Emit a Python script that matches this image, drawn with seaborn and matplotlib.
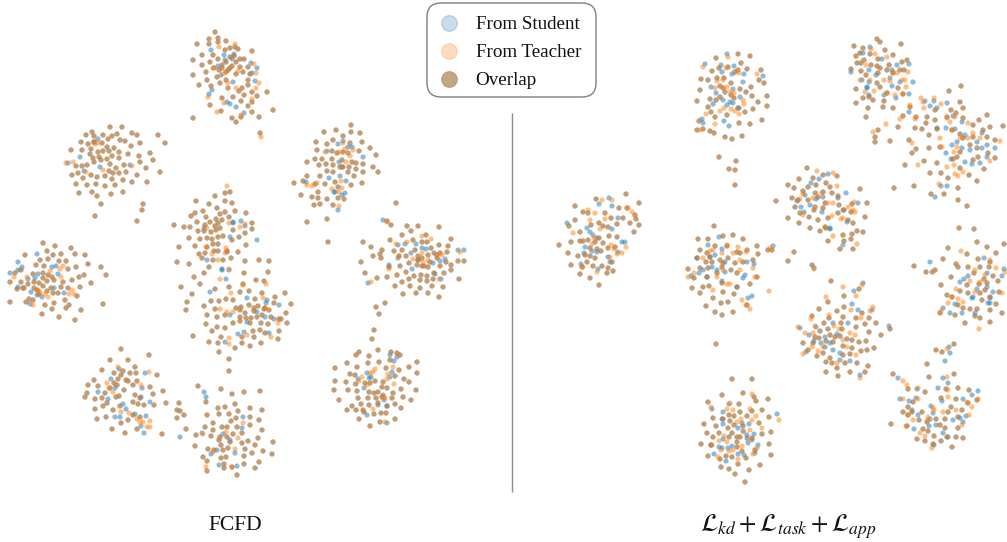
import pandas as pd
import seaborn as sns
import matplotlib.pyplot as plt
from matplotlib.lines import Line2D
from matplotlib.patches import FancyBboxPatch

BLUE = "#1f77b4"
ORANGE = "#ff7f0e"

# points, in image pixels. both = student and teacher coincide
left_both = [
(215,32),(218,38),(209,39),(218,42),(209,44),(226,41),(197,44),(235,47),(230,48),(238,49),(252,51),(225,50),(202,55),(213,55),(193,60),(218,59),(230,57),(240,59),(244,59),(210,62),(202,65),(222,65),(230,68),(240,67),(248,67),(206,72),(193,75),(217,77),(226,72),(236,74),(243,72),(248,80),(207,80),(220,83),(226,80),(199,85),(211,86),(228,88),(242,88),(248,85),(252,92),(239,91),(267,92),(257,96),(222,98),(233,97),(244,95),(252,102),(241,101),(210,105),(248,106),(273,110),(221,111),(252,112),(193,118),(232,118),(259,117),(241,117),(236,122),(260,133),(226,62),(232,66),(222,68),(236,62),(228,70),(219,70),(234,56),(250,74),(214,68),
(110,127),(122,127),(92,132),(132,133),(86,135),(94,136),(103,135),(112,136),(117,134),(137,135),(158,135),(81,142),(88,144),(102,143),(108,139),(120,140),(125,141),(140,143),(165,143),(94,142),(114,148),(107,147),(131,146),(82,150),(71,150),(91,149),(98,152),(103,151),(109,151),(119,152),(90,154),(128,154),(139,156),(150,153),(93,158),(99,157),(107,159),(112,156),(119,158),(153,160),(76,166),(82,166),(87,165),(94,162),(101,160),(110,164),(124,165),(140,162),(116,168),(146,168),(72,175),(78,173),(91,175),(97,177),(105,176),(109,171),(113,173),(119,173),(126,172),(137,175),(160,172),(83,178),(112,179),(123,180),(132,182),(147,182),(76,184),(87,185),(96,184),(115,185),(105,186),(79,193),(92,192),(97,196),(111,194),(123,192),(101,204),(143,204),(142,210),(95,216),(137,221),
(215,196),(230,192),(225,193),(196,201),(225,201),(232,203),(209,204),(203,211),(195,213),(191,216),(217,208),(225,212),(235,211),(246,213),(206,217),(220,214),(216,219),(229,217),(197,222),(174,225),(184,227),(190,227),(210,222),(222,220),(218,223),(252,223),(215,226),(205,225),(198,231),(204,231),(211,232),(216,230),(220,228),(233,230),(252,229),(245,233),(189,238),(200,239),(207,238),(218,237),(223,236),(212,239),(232,240),(239,237),(195,246),(179,247),(207,247),(213,244),(218,244),(246,245),(214,251),(218,251),(227,251),(238,252),(199,254),(205,253),(177,262),(189,264),(209,267),(202,258),(213,260),(223,260),(231,258),(245,261),(259,260),(269,261),
(194,277),(200,284),(204,273),(181,287),(192,294),(187,302),(186,310),(244,273),(268,272),(256,280),(264,281),(229,287),(243,284),(285,293),(275,297),(215,289),(240,292),(249,291),(262,293),(211,301),(219,301),(226,299),(233,300),(255,299),(241,307),(249,305),(258,306),(274,303),(291,304),(204,306),(215,309),(236,308),(245,313),(254,308),(264,309),(269,310),(286,313),(279,319),(217,317),(207,315),(225,315),(240,317),(246,318),(251,318),(257,317),(262,315),(271,317),(281,319),(287,323),(206,324),(217,327),(225,328),(233,323),(240,321),(250,323),(261,323),(268,324),(212,331),(253,331),(260,330),(279,331),(193,336),(221,337),(265,333),(242,337),(254,337),(278,339),(209,342),(218,343),(242,343),(261,343),(235,348),(250,346),(219,352),(229,359),(229,371),(254,311),(265,308),(240,310),
(43,243),(55,246),(71,248),(47,251),(61,254),(25,255),(53,255),(75,254),(85,255),(40,260),(48,259),(59,261),(66,261),(44,266),(36,265),(21,270),(68,269),(76,267),(88,264),(101,267),(106,275),(33,274),(43,273),(48,275),(52,277),(79,277),(84,275),(72,280),(91,283),(10,282),(21,282),(28,284),(34,282),(39,283),(47,281),(54,280),(63,282),(23,288),(17,289),(24,288),(34,288),(43,286),(51,288),(61,287),(80,287),(68,288),(58,293),(53,293),(47,291),(39,294),(77,296),(29,299),(33,300),(26,302),(10,302),(45,305),(54,303),(65,300),(69,305),(103,304),(52,309),(66,308),(81,310),(42,314),(59,317),(75,320),(15,273),(43,278),(37,290),
(121,349),(149,355),(110,360),(128,360),(135,367),(102,370),(114,373),(123,371),(130,373),(136,373),(157,375),(94,380),(121,375),(128,381),(118,379),(137,381),(88,385),(98,386),(114,383),(126,380),(133,385),(150,387),(87,393),(105,393),(124,390),(163,391),(85,397),(95,399),(102,398),(119,396),(135,395),(153,394),(144,405),(133,402),(166,403),(107,403),(120,406),(95,409),(113,410),(154,405),(106,417),(97,419),(121,423),(133,415),(128,420),(112,429),(125,433),(137,429),(162,434),(110,388),(117,385),(116,397),(140,398),(138,404),(140,417),(103,406),
(198,386),(221,389),(232,394),(244,392),(260,391),(206,402),(179,403),(218,408),(225,407),(235,404),(250,408),(262,410),(177,410),(180,411),(184,415),(207,415),(219,414),(229,414),(238,411),(177,418),(236,418),(250,417),(259,420),(213,423),(231,421),(222,427),(227,427),(250,425),(186,429),(205,427),(213,430),(237,427),(262,430),(242,433),(196,435),(211,436),(220,437),(227,437),(233,434),(248,441),(258,438),(219,440),(230,442),(242,443),(195,446),(273,442),(208,449),(221,445),(228,448),(245,449),(255,445),(263,451),(272,454),(203,457),(214,450),(223,450),(252,453),(207,461),(221,458),(226,457),(244,456),(259,462),(224,464),(244,464),(255,468),(207,471),(232,467),(237,475),(224,468),
(351,125),(336,130),(324,132),(351,132),(360,133),(343,136),(316,142),(333,140),(350,143),(362,142),(327,144),(370,148),(317,150),(332,151),(359,151),(376,155),(307,162),(315,159),(322,159),(332,159),(337,153),(348,153),(326,164),(319,165),(333,165),(342,160),(352,162),(356,163),(363,164),(373,167),(327,171),(333,172),(342,167),(349,167),(356,169),(363,172),(378,172),(307,176),(320,176),(348,172),(354,176),(294,183),(303,181),(315,184),(325,184),(335,182),(351,185),(362,183),(338,187),(318,192),(301,195),(312,197),(318,198),(327,199),(338,198),(344,199),(314,205),(320,204),(333,205),(327,219),(307,222),(328,242),(343,152),(340,167),
(396,203),(387,221),(391,225),(407,226),(418,226),(439,227),(411,231),(402,235),(426,235),(390,240),(413,240),(422,242),(427,242),(451,239),(363,242),(371,247),(382,250),(394,251),(402,250),(415,250),(431,248),(439,245),(448,246),(380,254),(373,256),(381,258),(399,256),(406,256),(418,256),(428,255),(434,253),(440,253),(447,252),(361,262),(409,263),(417,265),(424,266),(437,258),(446,262),(458,261),(464,261),(400,266),(422,266),(428,267),(440,266),(451,265),(389,267),(365,273),(377,278),(387,277),(397,275),(406,272),(414,276),(421,275),(427,276),(434,273),(444,273),(451,270),(459,279),(395,286),(402,282),(409,279),(420,280),(427,281),(433,279),(410,286),(420,288),(432,286),(443,287),(403,294),(416,293),(428,293),(439,297),(385,303),(376,307),(379,314),(374,330),(372,339),(437,255),(430,262),(418,260),(422,258),
(359,352),(378,350),(356,355),(391,352),(397,353),(369,356),(400,355),(390,360),(417,362),(347,363),(368,363),(379,362),(357,367),(335,368),(386,368),(399,370),(409,367),(350,374),(355,375),(395,376),(417,373),(335,381),(346,382),(375,381),(404,379),(409,382),(382,387),(387,388),(401,389),(334,390),(348,390),(357,391),(369,392),(374,393),(378,392),(393,393),(416,390),(339,400),(358,398),(368,398),(376,398),(392,398),(403,397),(411,400),(352,406),(361,404),(369,405),(378,403),(387,406),(395,404),(401,408),(347,410),(356,410),(364,412),(374,414),(381,413),(386,413),(359,419),(395,419),(380,422),(370,426),(365,383),(370,383),(383,382),(363,410),(382,397),
]
left_student = [
(211,50),(234,54),(224,55),(232,59),(218,66),(251,63),(252,73),(221,75),(233,82),(255,81),(212,90),(209,94),(227,102),(230,104),(236,107),(244,113),(225,60),(257,68),
(98,139),(80,157),(68,163),(84,171),(100,167),(130,165),(94,142),
(204,228),(245,226),(257,240),(230,237),(207,260),(222,269),(241,221),(233,222),(233,223),(227,252),
(210,292),(222,270),(229,270),(226,279),(247,298),(267,300),(279,305),(230,315),(257,312),(247,322),(265,317),(274,319),(269,333),(244,332),(238,334),(225,342),(266,303),
(37,254),(18,262),(22,267),(18,270),(10,273),(52,267),(56,266),(38,274),(28,279),(58,274),(18,287),(31,292),(37,295),(42,297),(64,293),(30,304),(54,288),(35,278),
(119,369),(145,373),(98,392),(111,379),(115,388),(108,399),(123,404),(126,409),(135,414),(146,416),(115,417),(141,426),(144,433),(142,388),(150,402),(141,397),(120,417),
(204,392),(206,397),(243,417),(242,428),(202,433),(180,437),(223,434),(211,454),(217,450),(235,453),(237,466),(219,465),(230,440),
(343,141),(338,144),(352,147),(327,151),(363,157),(339,162),(343,167),(329,178),(346,181),(340,176),(306,182),(334,192),(345,193),(342,195),(338,210),(335,192),(348,147),
(383,220),(405,244),(398,245),(416,244),(422,248),(426,249),(398,258),(411,253),(440,261),(445,259),(458,250),(464,250),(412,269),(435,274),(441,279),(418,260),(368,283),(389,265),(433,263),
(390,355),(394,361),(397,357),(367,373),(358,379),(356,384),(364,388),(371,377),(369,378),(390,377),(392,372),(383,395),(384,400),(387,406),(387,423),(367,415),(378,405),
]
left_teacher = [
(219,47),(235,44),(213,68),(223,74),(228,83),(236,88),(259,83),(256,88),(252,99),(208,97),(224,103),(217,112),(241,115),(261,137),(254,64),(256,73),(238,71),
(66,163),(73,162),(86,172),(103,170),(132,166),(95,144),(98,143),
(227,186),(207,228),(229,223),(245,224),(240,227),(206,247),(226,248),(218,260),(212,254),(229,269),(225,253),
(220,279),(231,293),(243,285),(266,284),(220,309),(233,312),(227,312),(263,298),(271,337),(229,344),(247,335),(278,323),(229,338),
(14,277),(27,277),(50,271),(63,266),(60,269),(61,277),(38,290),(48,297),(40,292),(72,290),(69,294),(74,294),(33,305),(45,294),
(118,367),(149,372),(107,383),(109,388),(113,392),(141,385),(121,412),(129,413),(140,422),(150,421),(147,427),(143,422),(137,419),(150,427),
(243,423),(226,432),(206,467),(232,467),(238,438),(235,449),(203,434),(213,452),
(345,149),(325,152),(353,150),(339,152),(350,156),(346,162),(317,183),(312,186),(307,185),(342,188),(332,189),(339,192),(339,206),(341,181),(343,143),
(387,222),(396,244),(407,242),(422,236),(431,239),(422,253),(413,259),(428,260),(442,255),(460,252),(371,282),(389,269),(399,256),(439,279),(423,262),
(393,367),(375,369),(388,374),(362,377),(370,373),(373,372),(359,381),(355,384),(367,385),(394,384),(384,397),(385,398),(385,422),(373,409),(387,379),
]

right_both = [
(626,194),(596,199),(639,203),(575,206),(619,208),(627,208),(583,212),(605,213),(588,213),(635,215),(575,220),(611,218),(623,218),(636,219),(630,223),(569,226),(599,223),(617,224),(639,225),(580,232),(591,225),(603,226),(634,232),(608,227),(609,236),(559,245),(571,242),(580,241),(583,241),(617,237),(599,238),(588,240),(595,242),(603,243),(568,253),(578,256),(585,255),(590,256),(601,251),(608,248),(615,247),(595,258),(571,265),(587,262),(593,266),(602,266),(612,262),(582,267),(580,274),(590,278),(599,285),(607,273),(613,271),(608,268),(597,249),(590,248),
(716,58),(738,54),(750,56),(741,63),(719,68),(728,67),(712,71),(747,69),(761,70),(738,70),(701,79),(708,80),(724,78),(759,80),(764,83),(731,83),(751,87),(700,90),(720,86),(740,89),(746,92),(725,92),(752,96),(767,96),(710,99),(697,101),(720,97),(734,98),(716,100),(758,102),(767,106),(708,107),(753,109),(745,112),(711,112),(715,117),(727,115),(699,121),(762,120),(739,123),(750,124),(697,130),(703,129),(710,131),(714,133),(725,137),(732,139),(742,136),(723,88),(731,95),(738,108),(717,78),(735,72),
(719,157),(736,161),(729,169),(735,170),(735,185),(776,201),(794,252),(788,261),(812,265),(716,344),
(714,226),(733,235),(723,236),(698,239),(708,239),(743,239),(757,246),(727,246),(700,250),(715,246),(737,252),(758,254),(728,258),(707,253),(697,258),(706,262),(720,260),(740,253),(747,250),(688,269),(700,268),(708,268),(722,267),(735,263),(743,262),(753,260),(694,278),(707,277),(717,273),(731,270),(737,273),(692,288),(703,287),(709,286),(722,283),(737,287),(750,284),(700,293),(723,292),(734,294),(713,298),(721,303),(728,302),(706,306),(715,312),(722,315),(733,312),(747,305),(772,250),(768,250),(757,277),(712,262),(723,263),(710,257),
(807,168),(837,176),(799,179),(823,175),(813,178),(788,185),(826,183),(794,188),(830,187),(808,187),(816,185),(803,191),(823,192),(838,196),(792,198),(832,193),(798,200),(818,197),(860,189),(808,200),(815,207),(825,203),(839,205),(795,207),(852,204),(867,203),(814,210),(800,213),(823,208),(844,210),(788,218),(809,217),(828,218),(851,212),(865,217),(818,220),(799,223),(810,228),(825,227),(838,213),(848,220),(853,223),(820,231),(828,241),(826,228),(843,235),(844,241),(840,249),(853,249),(857,231),(863,232),(851,239),(852,234),
(877,39),(880,42),(854,46),(901,44),(863,48),(885,50),(860,53),(856,56),(893,55),(870,54),(878,59),(864,60),(902,62),(907,60),(857,63),(861,63),(871,65),(877,66),(889,65),(851,69),(880,68),(887,70),(904,70),(861,71),(866,75),(878,73),(893,73),(900,70),(877,83),(898,88),(856,89),(880,87),(863,98),(873,100),(856,103),(884,101),(868,108),(883,107),(893,108),(903,94),(887,93),(866,117),(869,97),
(961,86),(949,91),(960,102),(963,108),(951,110),(956,113),(987,115),(979,120),(935,120),(947,117),(973,125),(990,127),(1003,126),(926,123),(915,128),(922,129),(898,127),(878,130),(875,137),(890,141),(875,142),(909,140),(916,149),(929,148),(912,153),(963,118),(983,130),(960,134),(952,130),(973,137),(963,138),(937,129),(929,135),(940,147),(970,145),(987,137),(995,140),(977,148),(960,152),(988,153),(957,157),(978,157),(995,158),(973,160),(937,163),(953,159),(924,161),(905,165),(984,169),(930,173),(941,173),(960,168),(969,175),(948,178),(977,181),(894,188),(914,186),(931,194),(944,194),(958,188),(958,200),(967,206),(903,116),(916,117),(910,107),(935,110),(927,117),
(959,228),(974,229),(977,242),(987,247),(948,248),(1004,244),(996,253),(967,254),(943,259),(978,259),(990,262),(956,264),(914,266),(958,267),(926,272),(935,270),(968,267),(980,267),(989,267),(951,277),(993,276),(974,273),(941,285),(984,279),(998,281),(960,291),(979,284),(968,293),(985,290),(999,292),(947,295),(980,293),(990,297),(952,297),(958,305),(996,304),(970,309),(977,309),(990,310),(940,313),(955,315),(975,316),(1002,313),(980,318),(965,323),(990,322),(982,300),(963,308),(967,285),(987,283),
(831,281),(859,289),(844,296),(828,302),(819,309),(844,307),(862,313),(837,311),(812,316),(829,318),(843,317),(856,318),(869,318),(824,323),(841,323),(856,327),(865,324),(876,323),(820,331),(828,329),(842,329),(869,332),(803,343),(815,337),(819,338),(830,335),(835,337),(840,336),(881,335),(847,339),(852,340),(866,341),(859,342),(826,341),(833,342),(843,346),(852,348),(874,348),(867,350),(861,351),(808,350),(823,353),(817,356),(830,358),(850,354),(843,355),(826,362),(832,363),(837,368),(845,363),(857,363),(868,366),(826,372),(838,376),(850,372),(865,372),(890,329),(813,343),
(954,344),(936,350),(942,352),(927,364),(893,374),(929,377),(954,374),(908,389),(925,392),(958,388),(969,390),(946,389),(941,398),(956,399),(913,402),(968,403),(977,400),(908,407),(951,407),(962,410),(903,412),(922,412),(948,412),(908,415),(919,420),(936,419),(945,419),(958,417),(891,424),(907,426),(927,422),(940,425),(958,428),(923,429),(928,431),(945,428),(934,436),(947,437),(956,437),(963,438),(917,439),(925,441),(941,441),(952,447),(933,444),(912,412),
(732,379),(752,379),(743,393),(722,395),(754,397),(756,401),(768,399),(708,402),(739,404),(762,410),(740,412),(752,411),(729,415),(734,416),(713,418),(747,416),(769,417),(730,421),(759,423),(704,424),(716,426),(734,425),(728,428),(707,433),(719,433),(732,433),(762,434),(771,432),(713,437),(729,437),(737,437),(740,437),(701,444),(711,445),(769,444),(737,442),(737,447),(742,451),(755,450),(708,456),(726,456),(732,457),(771,455),(746,458),(720,459),(738,464),(760,465),(721,467),(729,469),(749,470),(735,474),(745,482),(723,419),(743,426),(752,438),
]
right_student = [
(609,198),(599,204),(612,206),(567,223),(587,228),(590,232),(612,229),(618,218),(625,242),(593,235),(597,238),(585,247),(592,251),(597,252),(608,257),(618,252),(598,269),(610,262),(581,264),(584,253),(622,242),
(727,54),(705,64),(721,65),(734,66),(722,72),(732,74),(744,74),(763,76),(711,87),(733,89),(740,97),(716,93),(730,102),(727,105),(733,103),(713,104),(723,100),(702,119),(724,121),(729,126),(703,123),(739,108),(743,82),
(719,237),(708,245),(722,249),(697,258),(715,255),(710,257),(725,262),(747,262),(754,264),(712,267),(703,270),(699,273),(691,276),(707,277),(722,281),(745,275),(743,278),(737,287),(752,296),(748,298),(773,246),(717,270),(725,272),
(828,174),(819,179),(811,183),(805,195),(815,193),(797,201),(801,207),(810,205),(816,199),(822,212),(846,193),(843,210),(858,203),(830,228),(847,222),(838,198),(823,197),(804,212),(830,229),(843,245),(814,268),
(870,47),(863,53),(882,59),(851,72),(869,70),(897,65),(909,64),(862,80),(869,82),(867,88),(890,78),(900,82),(913,82),(869,95),(884,95),(896,98),(909,94),(892,86),(892,70),(876,75),(867,87),
(925,101),(930,106),(934,101),(937,108),(947,103),(953,116),(962,122),(937,128),(946,128),(955,129),(965,135),(982,133),(957,142),(952,145),(982,148),(970,150),(987,145),(995,148),(946,153),(951,159),(965,162),(972,164),(980,163),(987,157),(935,197),(941,186),(909,112),(947,186),(977,142),(962,148),
(930,262),(932,272),(984,258),(1004,269),(968,276),(987,273),(1002,276),(964,279),(960,282),(977,289),(987,287),(993,292),(955,304),(972,298),(988,303),(990,303),(943,308),(950,313),(962,313),(975,313),(973,297),(990,298),
(863,283),(854,291),(852,304),(858,310),(872,310),(833,323),(848,323),(800,328),(816,327),(809,335),(825,337),(837,334),(889,326),(814,341),(821,343),(833,350),(840,353),(806,352),(850,361),(840,360),(860,375),(830,343),(825,347),
(949,347),(950,353),(945,361),(898,378),(943,378),(948,383),(938,388),(917,389),(978,391),(972,395),(900,399),(909,401),(916,398),(942,401),(963,399),(912,410),(918,415),(931,406),(933,413),(930,419),(929,426),(936,425),(963,422),(960,418),(953,420),(914,429),(943,433),(948,437),(934,445),(966,416),
(712,409),(729,404),(723,412),(722,419),(777,414),(723,424),(742,423),(749,424),(738,428),(743,431),(747,435),(754,434),(723,439),(752,440),(758,445),(719,447),(722,448),(732,446),(747,438),(755,453),(714,454),(738,454),(744,455),(726,461),(711,445),(728,448),(748,443),
]
right_teacher = [
(602,200),(612,200),(628,208),(588,210),(595,213),(632,212),(573,233),(590,220),(600,229),(605,219),(594,238),(611,245),(626,247),(622,253),(610,257),(617,254),(592,244),(583,267),(597,272),(614,249),
(728,57),(703,67),(726,68),(739,73),(757,74),(717,81),(723,80),(715,88),(734,93),(730,92),(720,111),(724,108),(731,109),(735,111),(706,114),(744,104),(739,114),(715,124),(700,130),(743,100),(727,87),
(710,251),(727,245),(738,247),(746,252),(722,253),(733,253),(703,258),(740,260),(753,268),(717,277),(688,277),(694,273),(713,290),(727,284),(730,284),(742,300),(746,305),(750,309),(723,270),(740,270),(755,277),(769,291),(713,250),(770,248),
(817,171),(833,173),(837,186),(803,194),(816,193),(822,193),(800,199),(828,203),(833,203),(832,216),(848,207),(854,202),(855,212),(841,219),(843,218),(813,198),(853,210),(803,215),(833,236),(857,244),(814,269),
(871,49),(875,54),(887,57),(866,65),(908,72),(860,80),(870,80),(874,91),(865,92),(890,81),(905,80),(902,80),(895,95),(906,87),(903,94),(884,80),(893,72),(887,93),(897,73),
(921,98),(923,102),(934,98),(924,108),(941,104),(915,119),(900,119),(886,124),(873,132),(912,143),(940,138),(947,118),(955,117),(968,123),(950,122),(952,130),(960,138),(968,138),(980,138),(942,147),(954,152),(1000,141),(990,161),(918,165),(947,167),(954,165),(955,174),(963,172),(958,176),(939,184),(910,105),(957,147),(973,133),
(961,251),(990,260),(975,270),(996,268),(1005,272),(980,282),(970,281),(956,289),(975,292),(1002,293),(952,297),(958,299),(948,303),(941,311),(979,329),(933,272),(963,302),(985,275),
(843,287),(862,285),(856,296),(826,297),(851,310),(870,311),(873,307),(811,319),(829,315),(861,318),(798,327),(815,326),(834,326),(850,333),(855,335),(805,333),(813,333),(839,329),(823,347),(812,347),(803,354),(818,351),(856,355),(837,363),(860,378),(847,347),(843,340),
(947,349),(903,381),(918,388),(947,377),(907,385),(948,390),(948,397),(903,399),(918,399),(978,399),(967,402),(972,407),(908,415),(913,420),(933,408),(928,417),(943,412),(956,410),(969,415),(962,425),(906,426),(932,448),(928,420),(934,410),(925,436),(920,433),
(711,407),(752,394),(730,403),(727,409),(733,410),(750,409),(756,416),(741,419),(752,420),(737,422),(762,428),(724,436),(750,430),(744,432),(719,441),(727,442),(742,446),(757,448),(712,445),(721,450),(733,450),(729,451),(753,454),(718,457),(738,459),(779,420),(748,440),
]

legend_labels = ["From Student", "From Teacher", "Overlap"]
panel_labels = ["FCFD", r"$\mathcal{L}_{kd}+\mathcal{L}_{task}+\mathcal{L}_{app}$"]

student = left_both + left_student + right_both + right_student
teacher = left_both + left_teacher + right_both + right_teacher
points = pd.DataFrame(student + teacher, columns=["x", "y"])
points["source"] = ["student"] * len(student) + ["teacher"] * len(teacher)

sns.set_theme(style="white")
plt.rcParams["font.family"] = ["Liberation Serif", "DejaVu Serif"]
plt.rcParams["mathtext.fontset"] = "stix"

fig = plt.figure(figsize=(10.07, 5.42), dpi=100)
ax = fig.add_axes([0, 0, 1, 1])
sns.scatterplot(data=points, x="x", y="y", hue="source",
                palette={"student": BLUE, "teacher": ORANGE},
                s=14, alpha=0.5, linewidth=0, legend=False, ax=ax)
ax.set_xlim(0, 1007)
ax.set_ylim(542, 0)
ax.axis("off")

ax.vlines(512, 113, 492, color="#8c8c8c", linewidth=1)
ax.text(235, 526, panel_labels[0], ha="center", va="center", fontsize=15.5, color="#111111")
ax.text(788, 527, panel_labels[1], ha="center", va="center", fontsize=18, color="#111111")

# legend box
ax.add_patch(FancyBboxPatch((427, 3), 169, 94, boxstyle="round,pad=0,rounding_size=14",
                            facecolor="white", edgecolor="#7f7f7f", linewidth=1, zorder=4))

handles = [
    Line2D([], [], linestyle="", marker="o", markersize=11, markerfacecolor="#c8dcec",
           markeredgecolor="#aecde6", markeredgewidth=1),
    Line2D([], [], linestyle="", marker="o", markersize=11, markerfacecolor="#fedcc3",
           markeredgecolor="#fdcfa8", markeredgewidth=1),
    Line2D([], [], linestyle="", marker="o", markersize=11, markerfacecolor="#c4a687",
           markeredgecolor="#bd9d7c", markeredgewidth=1),
]
leg = ax.legend(handles, legend_labels, loc="upper left", bbox_to_anchor=(437 / 1007, 1 - 16 / 542),
                fontsize=13.7, frameon=False, labelspacing=0.56, borderpad=0, borderaxespad=0,
                handletextpad=0.75, handlelength=1.28)
leg.set_zorder(5)
for t in leg.get_texts():
    t.set_color("#111111")

fig.savefig("out.png", dpi=100)
